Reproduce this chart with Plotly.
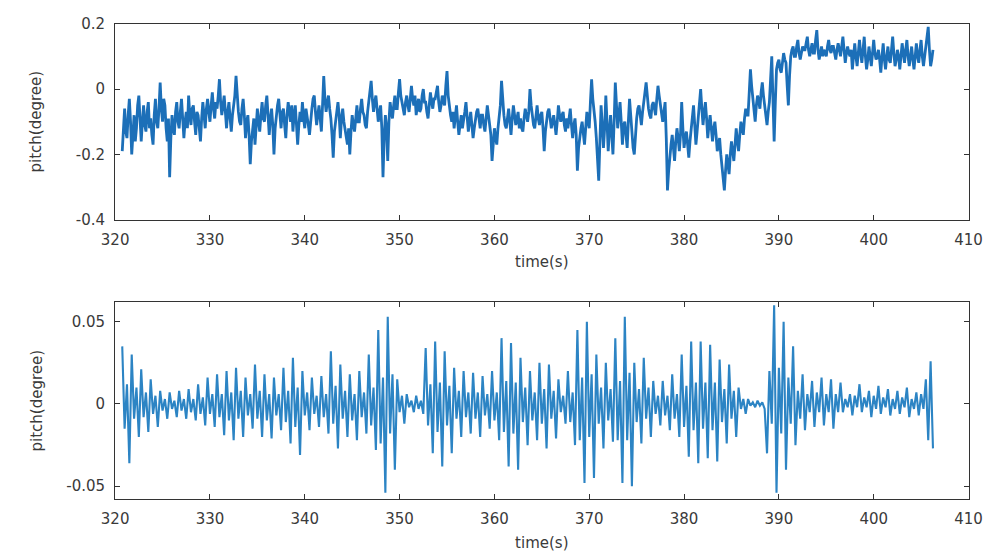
import numpy as np
import plotly.graph_objects as go
from plotly.subplots import make_subplots

# sampling grids (s)
t_start = 320.75
t_step_top = 0.125
t_step_bot = 0.25

# top: raw pitch (degree), 8 samples per second
pitch_raw = [
    -0.19, -0.11, -0.06, -0.13, -0.15, -0.08, -0.03, -0.10,
    -0.20, -0.14, -0.08, -0.16, -0.12, -0.05, -0.02, -0.09,
    -0.16, -0.10, -0.05, -0.11, -0.13, -0.07, -0.04, -0.12,
    -0.09, -0.14, -0.17, -0.08, -0.03, -0.10, -0.12, -0.06,
    0.02, -0.06, -0.10, -0.03, -0.05, -0.12, -0.16, -0.09,
    -0.27, -0.15, -0.08, -0.12, -0.14, -0.07, -0.04, -0.10,
    -0.12, -0.07, -0.03, -0.09, -0.15, -0.10, -0.07, -0.12,
    -0.02, -0.08, -0.11, -0.06, -0.05, -0.10, -0.14, -0.07,
    -0.08, -0.12, -0.16, -0.09, -0.04, -0.08, -0.12, -0.06,
    -0.03, -0.07, -0.10, -0.05, -0.01, -0.06, -0.09, -0.04,
    -0.06, -0.02, 0.03, -0.04, -0.08, -0.05, -0.02, -0.07,
    -0.12, -0.07, -0.04, -0.09, -0.13, -0.08, -0.05, -0.02,
    0.04, -0.03, -0.07, -0.10, -0.11, -0.06, -0.03, -0.08,
    -0.15, -0.10, -0.08, -0.14, -0.23, -0.16, -0.12, -0.09,
    -0.17, -0.11, -0.06, -0.10, -0.13, -0.08, -0.04, -0.09,
    -0.10, -0.05, -0.02, -0.08, -0.14, -0.09, -0.06, -0.11,
    -0.20, -0.12, -0.08, -0.05, -0.03, -0.09, -0.12, -0.07,
    -0.06, -0.11, -0.15, -0.08, -0.04, -0.07, -0.10, -0.05,
    -0.13, -0.08, -0.05, -0.11, -0.17, -0.11, -0.07, -0.10,
    -0.04, -0.09, -0.12, -0.06, -0.08, -0.11, -0.14, -0.09,
    -0.06, -0.03, -0.02, -0.07, -0.11, -0.08, -0.05, -0.09,
    -0.13, -0.05, 0.04, -0.03, -0.07, -0.04, -0.02, -0.06,
    -0.09, -0.14, -0.21, -0.13, -0.10, -0.07, -0.04, -0.08,
    -0.15, -0.09, -0.06, -0.10, -0.12, -0.15, -0.17, -0.12,
    -0.20, -0.13, -0.08, -0.11, -0.13, -0.09, -0.05, -0.10,
    -0.10, -0.06, -0.03, -0.07, -0.08, -0.11, -0.12, -0.07,
    -0.04, 0.00, 0.025, -0.03, -0.07, -0.04, -0.02, -0.06,
    -0.10, -0.07, -0.05, -0.12, -0.27, -0.15, -0.08, -0.12,
    -0.22, -0.10, -0.04, -0.07, -0.09, -0.05, -0.02, -0.06,
    -0.06, -0.01, 0.03, -0.02, -0.04, -0.07, -0.08, -0.04,
    -0.02, -0.05, -0.07, -0.03, 0.01, -0.03, -0.05, -0.02,
    -0.08, -0.05, -0.03, -0.07, -0.06, -0.02, 0.00, -0.04,
    -0.04, -0.07, -0.09, -0.05, -0.01, -0.04, -0.06, -0.03,
    -0.03, -0.01, 0.01, -0.04, -0.07, -0.05, -0.02, -0.04,
    -0.05, 0.01, 0.055, -0.02, -0.06, -0.08, -0.10, -0.07,
    -0.12, -0.08, -0.05, -0.10, -0.14, -0.11, -0.08, -0.12,
    -0.10, -0.07, -0.04, -0.09, -0.13, -0.10, -0.07, -0.11,
    -0.15, -0.12, -0.09, -0.07, -0.06, -0.10, -0.12, -0.08,
    -0.08, -0.11, -0.13, -0.09, -0.05, -0.08, -0.11, -0.14,
    -0.22, -0.16, -0.12, -0.15, -0.17, -0.12, -0.09, -0.05,
    0.025, -0.04, -0.08, -0.11, -0.12, -0.09, -0.06, -0.10,
    -0.14, -0.09, -0.05, -0.08, -0.11, -0.09, -0.07, -0.12,
    -0.09, -0.12, -0.13, -0.09, -0.06, -0.08, -0.10, -0.07,
    0.00, -0.05, -0.08, -0.11, -0.12, -0.08, -0.05, -0.09,
    -0.11, -0.08, -0.07, -0.12, -0.19, -0.13, -0.10, -0.07,
    -0.06, -0.09, -0.12, -0.10, -0.08, -0.11, -0.14, -0.10,
    -0.05, -0.08, -0.10, -0.08, -0.07, -0.11, -0.13, -0.09,
    -0.12, -0.09, -0.06, -0.11, -0.15, -0.11, -0.09, -0.14,
    -0.25, -0.18, -0.14, -0.12, -0.10, -0.13, -0.17, -0.12,
    -0.07, -0.10, -0.12, -0.04, 0.03, -0.03, -0.06, -0.10,
    -0.15, -0.21, -0.28, -0.16, -0.05, -0.11, -0.18, -0.12,
    -0.02, -0.10, -0.19, -0.13, -0.08, -0.14, -0.20, -0.10,
    0.02, -0.05, -0.12, -0.08, -0.04, -0.10, -0.17, -0.11,
    -0.10, -0.14, -0.18, -0.10, -0.03, -0.08, -0.14, -0.18,
    -0.20, -0.14, -0.09, -0.06, -0.05, -0.08, -0.11, -0.07,
    -0.03, -0.01, 0.02, -0.03, -0.06, -0.08, -0.09, -0.05,
    -0.04, -0.06, -0.08, -0.03, 0.01, -0.02, -0.05, -0.08,
    -0.10, -0.07, -0.04, -0.15, -0.31, -0.25, -0.20, -0.17,
    -0.14, -0.18, -0.22, -0.16, -0.12, -0.15, -0.19, -0.14,
    -0.04, -0.12, -0.18, -0.15, -0.13, -0.17, -0.21, -0.16,
    -0.12, -0.08, -0.05, -0.11, -0.17, -0.13, -0.09, -0.05,
    0.00, -0.06, -0.11, -0.07, -0.04, -0.09, -0.15, -0.11,
    -0.08, -0.12, -0.16, -0.12, -0.10, -0.14, -0.19, -0.17,
    -0.15, -0.20, -0.24, -0.27, -0.31, -0.25, -0.20, -0.23,
    -0.26, -0.20, -0.16, -0.19, -0.22, -0.17, -0.12, -0.16,
    -0.19, -0.14, -0.10, -0.12, -0.14, -0.09, -0.06, -0.08,
    -0.08, -0.01, 0.06, 0.01, -0.03, -0.07, -0.10, -0.05,
    -0.02, -0.04, -0.06, -0.01, 0.02, -0.02, -0.05, -0.08,
    -0.11, -0.07, -0.04, 0.03, 0.10, -0.03, -0.16, -0.04,
    0.06, 0.08, 0.09, 0.06, 0.05, 0.08, 0.11, 0.09,
    0.08, 0.01, -0.05, 0.04, 0.10, 0.12, 0.13, 0.10,
    0.10, 0.13, 0.15, 0.11, 0.09, 0.11, 0.13, 0.12,
    0.12, 0.14, 0.16, 0.12, 0.10, 0.12, 0.14, 0.11,
    0.11, 0.15, 0.18, 0.12, 0.09, 0.11, 0.13, 0.10,
    0.12, 0.11, 0.10, 0.13, 0.15, 0.12, 0.11, 0.13,
    0.13, 0.11, 0.09, 0.12, 0.14, 0.12, 0.10, 0.13,
    0.16, 0.12, 0.08, 0.11, 0.13, 0.11, 0.10, 0.12,
    0.06, 0.10, 0.14, 0.10, 0.07, 0.11, 0.15, 0.11,
    0.08, 0.12, 0.16, 0.10, 0.06, 0.09, 0.13, 0.10,
    0.07, 0.11, 0.15, 0.11, 0.09, 0.10, 0.12, 0.09,
    0.05, 0.10, 0.14, 0.09, 0.06, 0.10, 0.13, 0.09,
    0.08, 0.12, 0.16, 0.11, 0.07, 0.09, 0.12, 0.10,
    0.06, 0.10, 0.14, 0.11, 0.08, 0.12, 0.15, 0.10,
    0.07, 0.10, 0.13, 0.09, 0.06, 0.10, 0.14, 0.10,
    0.08, 0.12, 0.15, 0.10, 0.07, 0.10, 0.13, 0.16,
    0.19, 0.12, 0.07, 0.09, 0.12,
]

# bottom: oscillating pitch component (degree), 4 samples per second
pitch_osc = [
    0.035, -0.015, 0.012, -0.036,
    0.03, -0.009, 0.01, -0.02,
    0.021, -0.008, 0.007, -0.017,
    0.015, -0.006, 0.005, -0.014,
    0.008, -0.004, 0.003, -0.009,
    0.007, -0.003, 0.002, -0.008,
    0.008, -0.004, 0.003, -0.009,
    0.009, -0.005, 0.003, -0.01,
    0.012, -0.006, 0.004, -0.013,
    0.016, -0.006, 0.006, -0.014,
    0.018, -0.008, 0.006, -0.019,
    0.02, -0.01, 0.007, -0.022,
    0.022, -0.009, 0.008, -0.02,
    0.016, -0.007, 0.006, -0.015,
    0.024, -0.009, 0.008, -0.02,
    0.018, -0.01, 0.006, -0.021,
    0.016, -0.007, 0.006, -0.016,
    0.022, -0.011, 0.008, -0.024,
    0.028, -0.014, 0.01, -0.031,
    0.02, -0.007, 0.007, -0.016,
    0.016, -0.006, 0.005, -0.014,
    0.017, -0.008, 0.006, -0.018,
    0.032, -0.012, 0.011, -0.027,
    0.024, -0.009, 0.008, -0.02,
    0.018, -0.01, 0.006, -0.022,
    0.02, -0.008, 0.007, -0.018,
    0.03, -0.013, 0.01, -0.028,
    0.045, -0.024, 0.016, -0.054,
    0.053, -0.018, 0.018, -0.04,
    0.015, -0.005, 0.005, -0.012,
    0.006, -0.002, 0.002, -0.005,
    0.005, -0.003, 0.002, -0.006,
    0.034, -0.013, 0.012, -0.03,
    0.038, -0.017, 0.013, -0.038,
    0.032, -0.013, 0.011, -0.03,
    0.022, -0.009, 0.008, -0.02,
    0.02, -0.008, 0.007, -0.018,
    0.019, -0.009, 0.007, -0.02,
    0.017, -0.007, 0.006, -0.015,
    0.02, -0.01, 0.007, -0.022,
    0.04, -0.017, 0.014, -0.038,
    0.037, -0.018, 0.013, -0.04,
    0.028, -0.011, 0.01, -0.025,
    0.02, -0.01, 0.007, -0.022,
    0.025, -0.012, 0.009, -0.027,
    0.024, -0.009, 0.008, -0.021,
    0.015, -0.005, 0.005, -0.012,
    0.02, -0.011, 0.007, -0.025,
    0.045, -0.022, 0.016, -0.048,
    0.05, -0.02, 0.018, -0.045,
    0.03, -0.012, 0.01, -0.027,
    0.025, -0.01, 0.009, -0.023,
    0.04, -0.022, 0.014, -0.048,
    0.053, -0.022, 0.019, -0.05,
    0.025, -0.011, 0.009, -0.024,
    0.028, -0.009, 0.01, -0.02,
    0.014, -0.006, 0.005, -0.013,
    0.014, -0.007, 0.005, -0.016,
    0.018, -0.009, 0.006, -0.02,
    0.03, -0.014, 0.011, -0.032,
    0.038, -0.016, 0.013, -0.036,
    0.038, -0.015, 0.013, -0.033,
    0.036, -0.016, 0.013, -0.035,
    0.027, -0.011, 0.009, -0.024,
    0.024, -0.009, 0.008, -0.02,
    0.01, -0.003, 0.003, -0.006,
    0.003, -0.001, 0.001, -0.002,
    0.002, -0.001, 0.001, -0.003,
    -0.03, 0.02, -0.012, 0.06,
    -0.054, 0.022, -0.018, 0.05,
    -0.04, 0.016, -0.012, 0.035,
    -0.025, 0.008, -0.009, 0.018,
    -0.016, 0.006, -0.005, 0.014,
    -0.014, 0.007, -0.005, 0.016,
    -0.013, 0.006, -0.005, 0.015,
    -0.015, 0.006, -0.005, 0.013,
    -0.005, 0.003, -0.002, 0.006,
    -0.007, 0.005, -0.002, 0.012,
    -0.005, 0.004, -0.002, 0.008,
    -0.008, 0.005, -0.003, 0.011,
    -0.006, 0.004, -0.002, 0.009,
    -0.007, 0.003, -0.003, 0.008,
    -0.006, 0.004, -0.002, 0.01,
    -0.008, 0.003, -0.003, 0.007,
    -0.007, 0.006, -0.003, 0.015,
    -0.022, 0.026, -0.027,
]

x_ticks = [320, 330, 340, 350, 360, 370, 380, 390, 400, 410]
top_yticks = [-0.4, -0.2, 0, 0.2]
top_ylabels = ["-0.4", "-0.2", "0", "0.2"]
bot_yticks = [-0.05, 0, 0.05]
bot_ylabels = ["-0.05", "0", "0.05"]

time_top = t_start + t_step_top * np.arange(len(pitch_raw))
time_bot = t_start + t_step_bot * np.arange(len(pitch_osc))

FONT = "DejaVu Sans"
TXT = "#3a3a3a"

fig = make_subplots(rows=2, cols=1)
fig.add_trace(go.Scatter(x=time_top, y=pitch_raw, mode="lines",
                         line=dict(color="#1c6fb8", width=2.8), showlegend=False), row=1, col=1)
fig.add_trace(go.Scatter(x=time_bot, y=pitch_osc, mode="lines",
                         line=dict(color="#2c84c4", width=2.1), showlegend=False), row=2, col=1)

axis_common = dict(showline=True, linecolor="#333333", linewidth=1, mirror="ticks",
                   ticks="inside", ticklen=5, tickcolor="#333333", showgrid=False,
                   zeroline=False, ticklabelstandoff=6,
                   tickfont=dict(family=FONT, size=15, color=TXT))
title_font = dict(family=FONT, size=15, color=TXT)
xdom = [0.1033, 0.975]
fig.update_layout(
    width=1007, height=560, margin=dict(l=0, r=0, t=0, b=0),
    paper_bgcolor="white", plot_bgcolor="white",
    xaxis=dict(domain=xdom, range=[320, 410], tickvals=x_ticks, **axis_common,
               title=dict(text="time(s)", standoff=8, font=title_font)),
    yaxis=dict(domain=[0.611, 0.973], range=[-0.4, 0.2], tickvals=top_yticks, ticktext=top_ylabels, **axis_common,
               title=dict(text="pitch(degree)", standoff=30, font=title_font)),
    xaxis2=dict(domain=xdom, range=[320, 410], tickvals=x_ticks, **axis_common,
                title=dict(text="time(s)", standoff=10, font=title_font)),
    yaxis2=dict(domain=[0.0952, 0.4595], range=[-0.058, 0.062], tickvals=bot_yticks, ticktext=bot_ylabels, **axis_common,
                title=dict(text="pitch(degree)", standoff=20, font=title_font)),
)

fig.write_html("out.html")
